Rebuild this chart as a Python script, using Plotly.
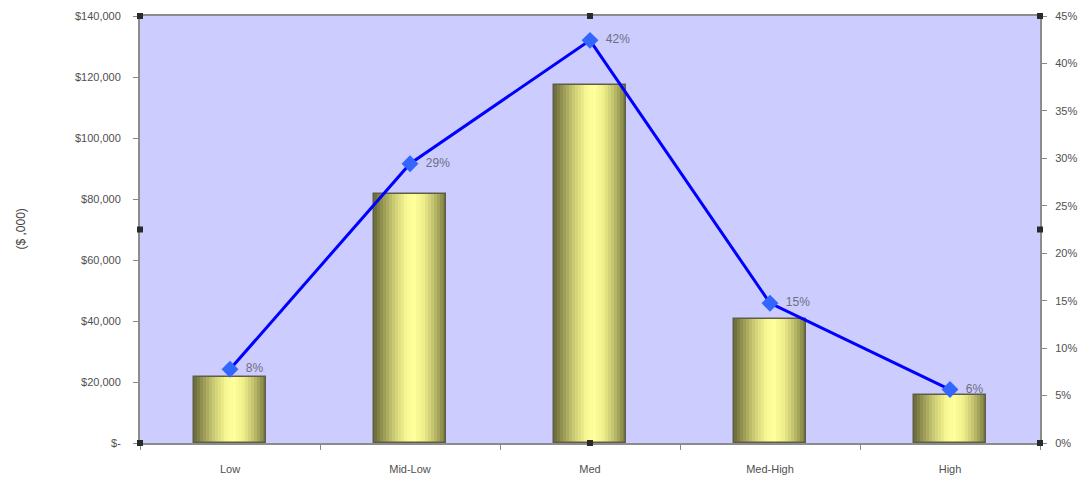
import plotly.graph_objects as go

# Revenue by segment (in $) and each segment's share of the total
categories = ["Low", "Mid-Low", "Med", "Med-High", "High"]
revenue = [21500, 81500, 117500, 40800, 15600]
total = sum(revenue)
share = [v / total for v in revenue]

left_ticks = [0, 20000, 40000, 60000, 80000, 100000, 120000, 140000]
left_tick_text = ["$-", "$20,000", "$40,000", "$60,000", "$80,000",
                  "$100,000", "$120,000", "$140,000"]
right_ticks = [0, 0.05, 0.10, 0.15, 0.20, 0.25, 0.30, 0.35, 0.40, 0.45]
right_tick_text = ["0%", "5%", "10%", "15%", "20%", "25%", "30%", "35%", "40%", "45%"]

# Cylinder shading: colour stops across the width of each bar
shade_stops = [
    (0.00, (104, 104, 56)), (0.12, (150, 150, 84)), (0.28, (205, 205, 118)),
    (0.45, (248, 248, 148)), (0.56, (255, 255, 156)), (0.68, (240, 240, 140)),
    (0.82, (196, 196, 110)), (0.93, (150, 150, 82)), (1.00, (118, 118, 64)),
]


def shade(t):
    for (t0, c0), (t1, c1) in zip(shade_stops, shade_stops[1:]):
        if t0 <= t <= t1:
            f = (t - t0) / (t1 - t0)
            r, g, b = (round(a + (b_ - a) * f) for a, b_ in zip(c0, c1))
            return f"rgb({r},{g},{b})"
    return "rgb(118,118,64)"


BAR_W = 0.40
N_STRIPES = 24
fig = go.Figure()

for i in range(N_STRIPES):
    t = (i + 0.5) / N_STRIPES
    fig.add_trace(go.Bar(
        x=categories, y=revenue,
        width=BAR_W / N_STRIPES + 0.002,
        offset=-BAR_W / 2 + i * BAR_W / N_STRIPES,
        marker=dict(color=shade(t), line=dict(width=0)),
        hoverinfo="skip", showlegend=False,
    ))

# Outline of each bar
fig.add_trace(go.Bar(
    x=categories, y=revenue, width=BAR_W, offset=-BAR_W / 2,
    marker=dict(color="rgba(0,0,0,0)", line=dict(color="#5e5e48", width=1.5)),
    showlegend=False, name="Revenue",
))

# Share line on the secondary axis
fig.add_trace(go.Scatter(
    x=categories, y=share, yaxis="y2", mode="lines+markers+text",
    line=dict(color="#0000ff", width=3),
    marker=dict(symbol="diamond", size=13, color="#3366ff"),
    text=share, texttemplate="\u00a0\u00a0%{text:.0%}", textposition="middle right",
    textfont=dict(family="Liberation Sans, Arial, sans-serif", size=12, color="#6e6e80"),
    showlegend=False, name="Share",
))

axis_font = dict(family="Liberation Sans, Arial, sans-serif", size=11, color="#505050")

fig.update_layout(
    width=1088, height=480,
    margin=dict(l=140, r=48, t=16, b=37),
    paper_bgcolor="white", plot_bgcolor="#ccccff",
    barmode="overlay", bargap=0,
    xaxis=dict(
        type="category", tickson="boundaries", ticks="outside", ticklen=5,
        tickcolor="#888888", showline=True, mirror=True, linecolor="#8c8c8c",
        linewidth=2, showgrid=False, tickfont=axis_font, ticklabelstandoff=15,
        automargin=False,
    ),
    yaxis=dict(
        range=[0, 140000], tickvals=left_ticks, ticktext=left_tick_text,
        ticks="outside", ticklen=5, tickcolor="#888888", showline=True,
        mirror=True, linecolor="#8c8c8c", linewidth=2, showgrid=False,
        zeroline=False, tickfont=axis_font, ticklabelstandoff=10, automargin=False,
    ),
    yaxis2=dict(
        range=[0, 0.45], tickvals=right_ticks, ticktext=right_tick_text,
        overlaying="y", side="right", ticks="outside", ticklen=5,
        tickcolor="#888888", showline=True, linecolor="#8c8c8c", linewidth=2,
        showgrid=False, zeroline=False, tickfont=axis_font, ticklabelstandoff=6,
        automargin=False,
    ),
    annotations=[dict(
        text="($\u00a0,000)", textangle=-90, xref="paper", yref="paper",
        x=-0.1333, xanchor="center", y=0.5, yanchor="middle", showarrow=False,
        font=dict(family="Liberation Sans, Arial, sans-serif", size=12, color="#404040"),
    )],
)

# Selection handles around the plot area
handles = [(0, 1), (0.5, 1), (1, 1), (0, 0.5), (1, 0.5), (0, 0), (0.5, 0), (1, 0)]
for hx, hy in handles:
    fig.add_shape(
        type="rect", xref="paper", yref="paper",
        xsizemode="pixel", ysizemode="pixel", xanchor=hx, yanchor=hy,
        x0=-3, x1=3, y0=-3, y1=3,
        fillcolor="#2a2a2a", line=dict(width=0), layer="above",
    )

fig.write_html("out.html")
